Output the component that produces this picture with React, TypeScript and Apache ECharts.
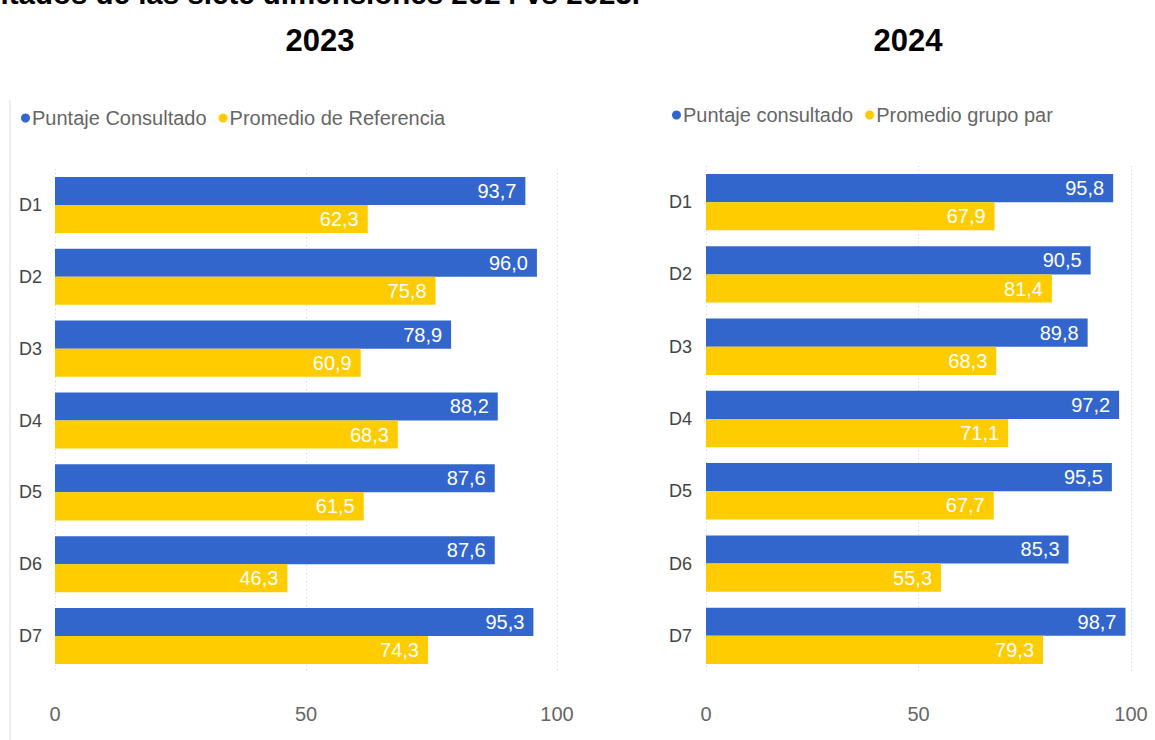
import React, { useEffect, useRef } from "react";
import * as echarts from "echarts";

const categories = ["D1", "D2", "D3", "D4", "D5", "D6", "D7"];
const xTicks = [0, 50, 100];
const consultado2023 = [93.7, 96.0, 78.9, 88.2, 87.6, 87.6, 95.3];
const referencia2023 = [62.3, 75.8, 60.9, 68.3, 61.5, 46.3, 74.3];
const consultado2024 = [95.8, 90.5, 89.8, 97.2, 95.5, 85.3, 98.7];
const grupoPar2024 = [67.9, 81.4, 68.3, 71.1, 67.7, 55.3, 79.3];

const BLUE = "#3366CC";
const YELLOW = "#FFCC00";
const FONT = "'Liberation Sans', Arial, sans-serif";

const fmt = (v: number) => v.toFixed(1).replace(".", ",");

export default function App() {
  const ref = useRef<HTMLDivElement>(null);
  useEffect(() => {
    if (!ref.current) return;
    const chart = echarts.init(ref.current, undefined, { renderer: "svg" });
    const labelCfg = {
      show: true,
      position: "insideRight" as const,
      distance: 9,
      color: "#ffffff",
      fontSize: 20,
      fontFamily: FONT,
      formatter: (p: any) => fmt(p.value),
    };
    const xAxisBase = (gi: number) => ({
      type: "value" as const,
      gridIndex: gi,
      min: 0,
      max: 100,
      interval: 50,
      axisLine: { show: false },
      axisTick: { show: false },
      axisLabel: {
        color: "#666",
        fontSize: 20,
        fontFamily: FONT,
        margin: 32,
        formatter: (v: number) => (xTicks.includes(v) ? String(v) : ""),
      },
      splitLine: { show: true, lineStyle: { color: "#d0d0d0", type: [1, 3] as any, width: 1 } },
    });
    const yAxisBase = (gi: number, margin: number) => ({
      type: "category" as const,
      gridIndex: gi,
      data: categories,
      inverse: true,
      axisLine: { show: false },
      axisTick: { show: false },
      axisLabel: { color: "#444", fontSize: 18, fontFamily: FONT, margin },
    });
    const barBase = {
      type: "bar" as const,
      barGap: "0%",
      barCategoryGap: "22%",
      label: labelCfg,
    };
    const legendText = { color: "#666", fontSize: 20, fontFamily: FONT, padding: [0, 0, 0, -3] };
    chart.setOption({
      animation: false,
      backgroundColor: "#ffffff",
      textStyle: { fontFamily: FONT },
      grid: [
        { left: 55, top: 169, width: 502, height: 503 },
        { left: 706, top: 166, width: 425, height: 506 },
      ],
      legend: [
        {
          left: 16,
          top: 103,
          icon: "circle",
          itemWidth: 9,
          itemHeight: 9,
          itemGap: 12,
          textStyle: legendText,
          data: ["Puntaje Consultado", "Promedio de Referencia"],
        },
        {
          left: 667,
          top: 100,
          icon: "circle",
          itemWidth: 9,
          itemHeight: 9,
          itemGap: 12,
          textStyle: legendText,
          data: ["Puntaje consultado", "Promedio grupo par"],
        },
      ],
      xAxis: [xAxisBase(0), xAxisBase(1)],
      yAxis: [yAxisBase(0, 13), yAxisBase(1, 14)],
      series: [
        { ...barBase, name: "Puntaje Consultado", xAxisIndex: 0, yAxisIndex: 0, data: consultado2023, itemStyle: { color: BLUE } },
        { ...barBase, name: "Promedio de Referencia", xAxisIndex: 0, yAxisIndex: 0, data: referencia2023, itemStyle: { color: YELLOW } },
        { ...barBase, name: "Puntaje consultado", xAxisIndex: 1, yAxisIndex: 1, data: consultado2024, itemStyle: { color: BLUE } },
        { ...barBase, name: "Promedio grupo par", xAxisIndex: 1, yAxisIndex: 1, data: grupoPar2024, itemStyle: { color: YELLOW } },
      ],
      graphic: [
        {
          type: "text",
          x: 640,
          y: -7,
          style: {
            text: "Resultados de las siete dimensiones 2024 vs 2023.",
            fill: "#000",
            font: `bold 29.5px ${FONT}`,
            align: "right",
            verticalAlign: "middle",
          },
        },
        {
          type: "text",
          x: 320,
          y: 40,
          style: { text: "2023", fill: "#000", font: `bold 31px ${FONT}`, align: "center", verticalAlign: "middle" },
        },
        {
          type: "text",
          x: 908,
          y: 40,
          style: { text: "2024", fill: "#000", font: `bold 31px ${FONT}`, align: "center", verticalAlign: "middle" },
        },
        {
          type: "line",
          shape: { x1: 10, y1: 100, x2: 10, y2: 740 },
          style: { stroke: "#eceef6", lineWidth: 2 },
        },
      ],
    });
    return () => chart.dispose();
  }, []);
  return (
    <div
      ref={ref}
      style={{ position: "fixed", left: 0, top: 0, width: 1155, height: 740, background: "#fff" }}
    />
  );
}
